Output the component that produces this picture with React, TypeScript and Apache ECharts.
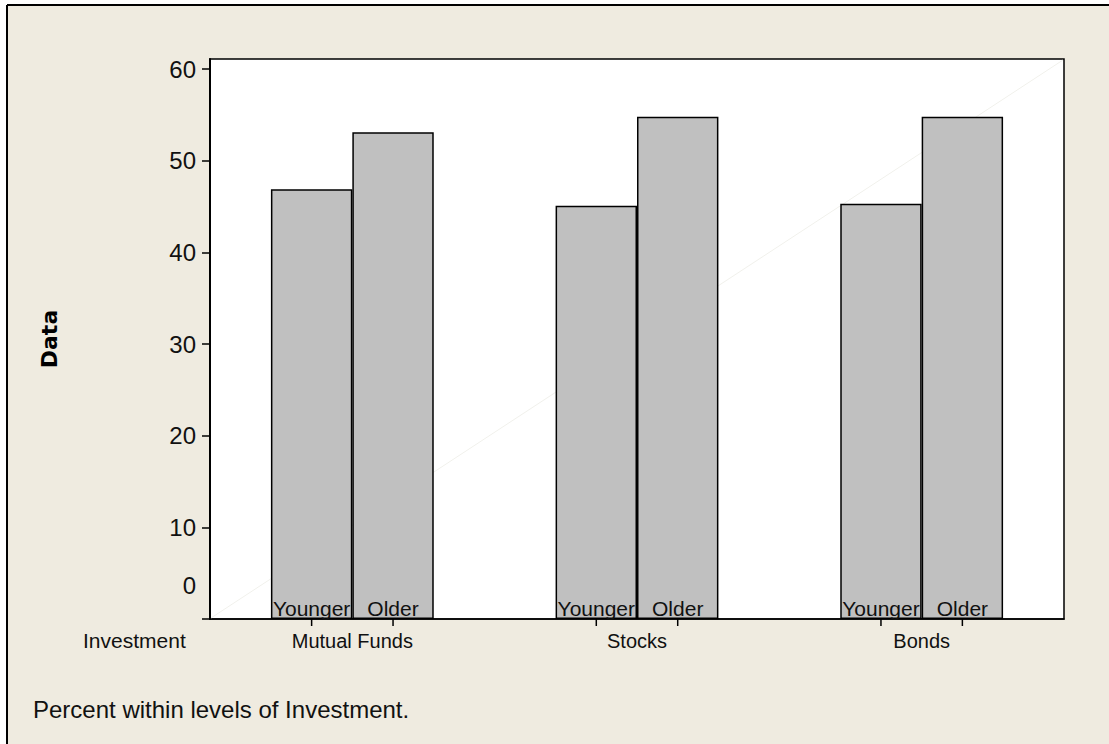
import React, { useEffect, useRef } from "react";
import * as echarts from "echarts";

const categories = ["Mutual Funds", "Stocks", "Bonds"];
const younger = [46.9, 45.1, 45.3];
const older = [53.1, 54.8, 54.8];
const yTicks = [0, 10, 20, 30, 40, 50, 60];
const yMax = 61.1;
const groupTitle = "Investment";
const yTitle = "Data";
const footnote = "Percent within levels of Investment.";

const FONT = "Liberation Sans";
const BG = "#EFEBE0";
const BAR_W = 0.286;

export default function App() {
  const ref = useRef<HTMLDivElement>(null);
  useEffect(() => {
    if (!ref.current) return;
    const chart = echarts.init(ref.current, null, { renderer: "svg" });
    const barLabel = {
      show: true,
      position: "insideBottom",
      distance: 0,
      formatter: "{a}",
      fontSize: 21,
      fontFamily: FONT,
      color: "#111",
      textBorderWidth: 0,
    };
    const barStyle = { color: "#C0C0C0", borderColor: "#000", borderWidth: 1.5 };
    chart.setOption({
      animation: false,
      backgroundColor: BG,
      textStyle: { fontFamily: FONT },
      grid: {
        left: 210,
        top: 59,
        right: 45,
        bottom: 125,
        show: true,
        backgroundColor: "#fff",
        borderColor: "#000",
        borderWidth: 1.5,
      },
      xAxis: {
        type: "category",
        data: categories,
        axisLine: { show: true, lineStyle: { color: "#000", width: 1.5 } },
        axisTick: { show: false },
        axisLabel: { interval: 0, fontSize: 20, color: "#111", margin: 12, fontFamily: FONT },
        splitLine: { show: false },
      },
      yAxis: {
        type: "value",
        min: 0,
        max: yMax,
        name: yTitle,
        nameLocation: "middle",
        nameRotate: 90,
        nameGap: 150,
        nameTextStyle: { fontFamily: "DejaVu Sans", fontWeight: "bold", fontSize: 22, color: "#000" },
        axisLine: { show: true, lineStyle: { color: "#000", width: 2 } },
        axisTick: { show: true, length: 8, customValues: yTicks, lineStyle: { color: "#000", width: 1.5 } },
        axisLabel: {
          customValues: yTicks,
          fontSize: 24,
          color: "#111",
          margin: 14,
          fontFamily: FONT,
          formatter: (v: number) => (v === 0 ? "{z|0}" : String(v)),
          rich: { z: { fontSize: 24, fontFamily: FONT, color: "#111", padding: [0, 0, 68, 0] } },
        },
        splitLine: { show: false },
      },
      graphic: [
        { type: "rect", z: 10, shape: { x: 0, y: 0, width: 1109, height: 5 }, style: { fill: "#fff" } },
        { type: "rect", z: 10, shape: { x: 0, y: 0, width: 7, height: 744 }, style: { fill: "#fff" } },
        { type: "line", z: 10, shape: { x1: 7, y1: 5, x2: 1109, y2: 5 }, style: { stroke: "#000", lineWidth: 2 } },
        { type: "line", z: 10, shape: { x1: 7, y1: 5, x2: 7, y2: 744 }, style: { stroke: "#000", lineWidth: 2 } },
        { type: "line", z: 1, shape: { x1: 211, y1: 618, x2: 1063, y2: 60 }, style: { stroke: "#F1F1EC", lineWidth: 1 } },
        { type: "text", left: 83, top: 630, style: { text: groupTitle, fontSize: 21, fontFamily: FONT, fill: "#111" } },
        { type: "text", left: 33, top: 697, style: { text: footnote, fontSize: 24, fontFamily: FONT, fill: "#111" } },
      ],
      series: [
        { type: "bar", name: "Younger", data: younger, barWidth: (BAR_W * 100).toFixed(1) + "%", barGap: "0%", itemStyle: barStyle, label: barLabel, z: 2 },
        { type: "bar", name: "Older", data: older, barWidth: (BAR_W * 100).toFixed(1) + "%", barGap: "0%", itemStyle: barStyle, label: barLabel, z: 2 },
        {
          type: "custom",
          silent: true,
          clip: false,
          z: 5,
          data: categories.map((_, i) => [i, 0]),
          encode: { x: 0, y: 1 },
          renderItem: (params: any, api: any) => {
            const c = api.coord([api.value(0), 0]);
            const band = api.size([1, 0])[0];
            const off = (band * BAR_W) / 2;
            return {
              type: "group",
              children: [-off, off].map((d) => ({
                type: "line",
                shape: { x1: c[0] + d, y1: c[1], x2: c[0] + d, y2: c[1] + 7 },
                style: { stroke: "#000", lineWidth: 1.5 },
              })),
            };
          },
        },
      ],
    });
    return () => chart.dispose();
  }, []);
  return <div ref={ref} style={{ position: "fixed", left: 0, top: 0, width: 1109, height: 744 }} />;
}
